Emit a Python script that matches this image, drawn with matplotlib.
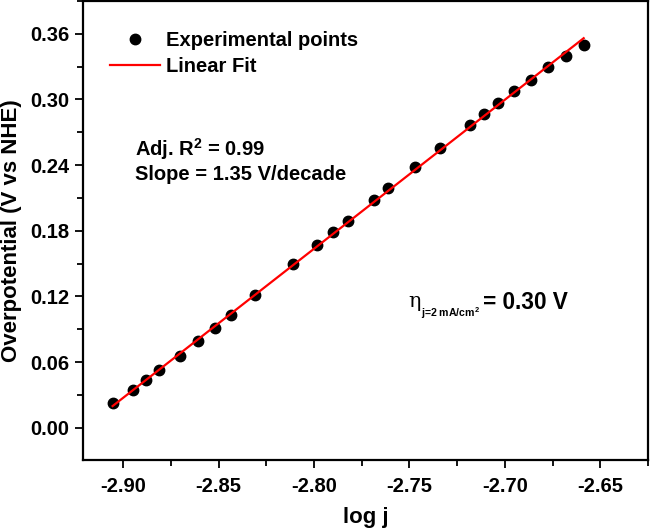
import numpy as np
import matplotlib
matplotlib.use("Agg")
import matplotlib.pyplot as plt
from matplotlib.ticker import MultipleLocator, FormatStrFormatter

# values
log_j = [-2.9055, -2.8949, -2.8878, -2.8810, -2.8704, -2.8610, -2.8521, -2.8437,
         -2.8310, -2.8109, -2.7982, -2.7899, -2.7823, -2.7686, -2.7611, -2.7473,
         -2.7338, -2.7185, -2.7107, -2.7036, -2.6951, -2.6865, -2.6774, -2.6682,
         -2.6587]
overpotential = [0.0230, 0.0345, 0.0436, 0.0525, 0.0659, 0.0790, 0.0912, 0.1028,
                 0.1211, 0.1493, 0.1668, 0.1790, 0.1893, 0.2083, 0.2190, 0.2382,
                 0.2560, 0.2766, 0.2869, 0.2970, 0.3080, 0.3180, 0.3293, 0.3400,
                 0.3500]
fit_x = [-2.9055, -2.6587]
fit_y = [0.0198, 0.3560]

x_ticks = [-2.90, -2.85, -2.80, -2.75, -2.70, -2.65]
y_ticks = [0.00, 0.06, 0.12, 0.18, 0.24, 0.30, 0.36]

font = 'Liberation Sans'
plt.rcParams['font.family'] = [font, 'DejaVu Sans']
plt.rcParams['font.weight'] = 'bold'
plt.rcParams['mathtext.fontset'] = 'custom'
plt.rcParams['mathtext.rm'] = 'Liberation Sans:bold'
plt.rcParams['mathtext.bf'] = 'Liberation Sans:bold'
plt.rcParams['mathtext.it'] = 'Liberation Sans:bold'

fig = plt.figure(figsize=(6.5, 5.29), dpi=100)
ax = fig.add_axes([83 / 650, 69 / 529, 565 / 650, 459 / 529])

ax.plot(log_j, overpotential, 'o', color='black', markersize=7.5, label='Experimental points', zorder=2)
ax.plot(fit_x, fit_y, '-', color='#ff0000', linewidth=1.6, label='Linear Fit', zorder=3)

ax.set_xlim(-2.921, -2.625)
ax.set_ylim(-0.0295, 0.390)
ax.set_xticks(x_ticks)
ax.set_yticks(y_ticks)
ax.xaxis.set_minor_locator(MultipleLocator(0.025))
ax.yaxis.set_minor_locator(MultipleLocator(0.03))
ax.xaxis.set_major_formatter(FormatStrFormatter('%.2f'))
ax.yaxis.set_major_formatter(FormatStrFormatter('%.2f'))

ax.tick_params(which='both', direction='out', width=1.3, top=False, right=False)
ax.tick_params(which='major', length=6, labelsize=14.5)
ax.tick_params(axis='x', which='major', pad=6)
ax.tick_params(axis='y', which='major', pad=4)
ax.tick_params(which='minor', length=4)
for s in ax.spines.values():
  s.set_linewidth(1.6)

ax.set_xlabel('log j', fontsize=16, fontweight='bold')
ax.set_ylabel('Overpotential (V vs NHE)', fontsize=16, fontweight='bold')
ax.xaxis.set_label_coords(0.5, -(507 - 460) / 459)
ax.yaxis.set_label_coords(-(83 - 22) / 565, 0.5)

ax.legend(loc='upper left', bbox_to_anchor=(27 / 565, 1 - 30 / 459), frameon=False,
          fontsize=14.5, handlelength=2.5, handletextpad=0.3, labelspacing=0.36,
          borderpad=0, borderaxespad=0, numpoints=1)

ax.text(0.092, 0.678, r'Adj. R$^2$ = 0.99', transform=ax.transAxes, fontsize=14.5,
        fontweight='bold', va='center', ha='left')
ax.text(0.092, 0.623, 'Slope = 1.35 V/decade', transform=ax.transAxes, fontsize=14.5,
        fontweight='bold', va='center', ha='left')

ax.text(0.575, 0.346, 'η', transform=ax.transAxes, fontsize=15, fontweight='normal',
        va='center', ha='left', family='DejaVu Serif')
ax.text(0.598, 0.320, r'j=2 mA/cm$^2$', transform=ax.transAxes, fontsize=7.6,
        fontweight='bold', va='center', ha='left')
ax.text(0.708, 0.344, '= 0.30 V', transform=ax.transAxes, fontsize=16.3,
        fontweight='bold', va='center', ha='left')

fig.savefig('out.png', dpi=100)
